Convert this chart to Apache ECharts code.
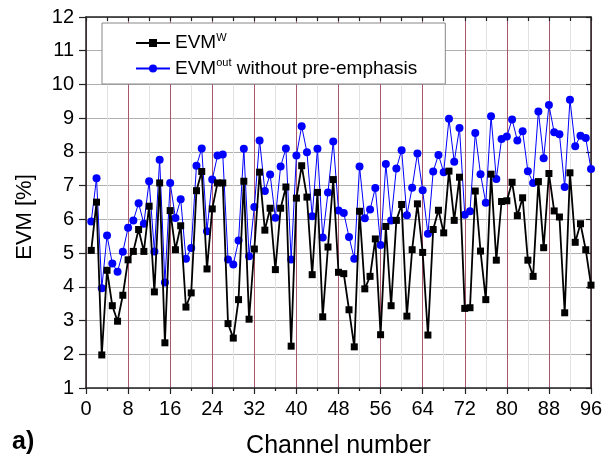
<!DOCTYPE html>
<html>
<head>
<meta charset="utf-8">
<script src="https://cdn.jsdelivr.net/npm/echarts@6/dist/echarts.min.js"></script>
<style>
html,body{margin:0;padding:0;background:#fff;}
#chart{width:613px;height:464px;}
</style>
</head>
<body>
<div id="chart"></div>
<script>
var channels = [];
for (var c = 1; c <= 96; c++) channels.push(c);

var evmW = [5.08,6.51,1.98,4.49,3.44,2.98,3.75,4.80,5.05,5.70,5.05,6.39,3.85,7.08,2.34,6.26,
5.10,5.81,3.40,3.82,6.85,7.42,4.53,6.31,7.08,7.08,2.91,2.48,3.62,7.13,3.04,5.12,
7.40,5.68,6.33,4.51,6.33,6.96,2.24,6.63,7.59,6.66,4.36,6.80,3.11,5.18,7.18,4.43,
4.39,3.32,2.22,6.24,3.94,4.31,5.42,2.58,5.79,3.44,5.97,6.44,3.13,5.10,6.46,5.02,
2.57,5.70,6.27,5.60,7.43,5.97,7.25,3.36,3.38,6.84,5.06,3.62,7.34,4.79,6.53,6.55,
7.10,6.11,6.64,4.79,4.31,7.12,5.16,7.36,6.25,6.07,3.23,7.38,5.32,5.87,5.10,4.05];

var evmOut = [5.94,7.22,3.96,5.52,4.69,4.45,5.04,5.75,5.97,6.48,5.87,7.13,5.05,7.77,4.13,7.08,
6.04,6.60,4.83,5.15,7.59,8.10,5.65,7.18,7.89,7.92,4.81,4.66,5.37,8.09,4.91,6.37,
8.34,6.84,7.33,6.05,7.57,8.10,4.81,7.89,8.76,7.99,6.09,8.09,5.46,6.80,8.31,6.26,
6.19,5.48,4.83,7.57,6.03,6.29,6.93,5.24,7.64,5.97,7.51,8.05,6.12,6.94,7.95,6.86,
5.57,7.42,7.91,7.40,8.98,7.71,8.71,6.14,6.24,8.56,7.34,6.49,9.06,7.20,8.38,8.46,
8.96,8.34,8.61,7.43,7.08,9.20,7.81,9.39,8.58,8.52,6.96,9.55,8.17,8.48,8.41,7.49];

var seriesNames = ['EVM^W', 'EVM^out without pre-emphasis'];
var xTicks = [0, 8, 16, 24, 32, 40, 48, 56, 64, 72, 80, 88, 96];
var yTicks = [1, 2, 3, 4, 5, 6, 7, 8, 9, 10, 11, 12];

function pairs(xs, ys) { return xs.map(function (x, i) { return [x, ys[i]]; }); }

var FONT = 'Liberation Sans, Arial, sans-serif';
var chart = echarts.init(document.getElementById('chart'), null, {renderer: 'canvas'});
chart.setOption({
  animation: false,
  backgroundColor: '#fff',
  textStyle: {fontFamily: FONT},
  grid: {left: 86, right: 22, top: 17, bottom: 76, containLabel: false},
  legend: {
    show: true,
    orient: 'vertical',
    left: 102,
    top: 23,
    data: seriesNames,
    backgroundColor: '#fff',
    borderColor: '#888',
    borderWidth: 1,
    borderRadius: 0,
    padding: [9, 28, 6, 33],
    itemGap: 5,
    itemWidth: 34,
    itemHeight: 10,
    textStyle: {
      fontFamily: FONT,
      color: '#000',
      fontSize: 19,
      rich: {
        b: {fontSize: 19, color: '#000', fontFamily: FONT, lineHeight: 22},
        s: {fontSize: 11, color: '#000', fontFamily: FONT, verticalAlign: 'top', lineHeight: 8}
      }
    },
    formatter: function (name) {
      if (name === seriesNames[0]) return '{b|EVM}{s|W}';
      return '{b|EVM}{s|out}{b| without pre-emphasis}';
    }
  },
  xAxis: [{
    type: 'value', min: 0, max: 96, interval: 8,
    position: 'bottom',
    name: 'Channel number',
    nameLocation: 'middle',
    nameGap: 46,
    nameTextStyle: {fontSize: 25, color: '#000', fontFamily: FONT},
    axisLine: {show: true, onZero: false, lineStyle: {color: '#222', width: 1.5}},
    axisTick: {show: true, inside: false, length: 6, lineStyle: {color: '#222', width: 1.2}},
    minorTick: {show: true, splitNumber: 2, length: 3, lineStyle: {color: '#222', width: 1.2}},
    axisLabel: {show: true, fontSize: 20, color: '#000', margin: 11, fontFamily: FONT,
      customValues: xTicks},
    splitLine: {show: true, lineStyle: {color: '#a8566c', width: 1}},
    minorSplitLine: {show: true, lineStyle: {color: '#e2e2e2', width: 1}}
  }, {
    type: 'value', min: 0, max: 96, interval: 4,
    position: 'top',
    axisLine: {show: true, onZero: false, lineStyle: {color: '#222', width: 1.5}},
    axisTick: {show: true, inside: true, length: 4, lineStyle: {color: '#222', width: 1.2}},
    axisLabel: {show: false},
    splitLine: {show: false}
  }],
  yAxis: [{
    type: 'value', min: 1, max: 12, interval: 1,
    position: 'left',
    axisLine: {show: true, onZero: false, lineStyle: {color: '#222', width: 1.5}},
    axisTick: {show: true, inside: false, length: 7, lineStyle: {color: '#222', width: 1.2}},
    axisLabel: {show: true, fontSize: 20, color: '#000', margin: 12, fontFamily: FONT,
      customValues: yTicks},
    splitLine: {show: true, lineStyle: {color: '#b0b0b0', width: 1.2}}
  }, {
    type: 'value', min: 1, max: 12, interval: 1,
    position: 'right',
    axisLine: {show: true, onZero: false, lineStyle: {color: '#222', width: 1.5}},
    axisTick: {show: true, inside: true, length: 5, lineStyle: {color: '#222', width: 1.2}},
    axisLabel: {show: false},
    splitLine: {show: false}
  }],
  graphic: [{
    type: 'text', left: 12, top: 430,
    style: {text: 'a)', font: 'bold 25px ' + FONT, fill: '#000'}
  }, {
    type: 'text', x: 25, y: 217, rotation: Math.PI / 2,
    style: {text: 'EVM [%]', font: '22px ' + FONT, fill: '#000', align: 'center', verticalAlign: 'middle'}
  }],
  series: [{
    name: seriesNames[0],
    type: 'line',
    xAxisIndex: 0, yAxisIndex: 0,
    data: pairs(channels, evmW),
    z: 4,
    symbol: 'rect',
    symbolSize: 7,
    itemStyle: {color: '#000'},
    lineStyle: {color: '#000', width: 1.8}
  }, {
    name: seriesNames[1],
    type: 'line',
    xAxisIndex: 0, yAxisIndex: 0,
    data: pairs(channels, evmOut),
    z: 3,
    symbol: 'circle',
    symbolSize: 8,
    itemStyle: {color: '#0000ff'},
    lineStyle: {color: '#0000ff', width: 1}
  }]
});
</script>
</body>
</html>
